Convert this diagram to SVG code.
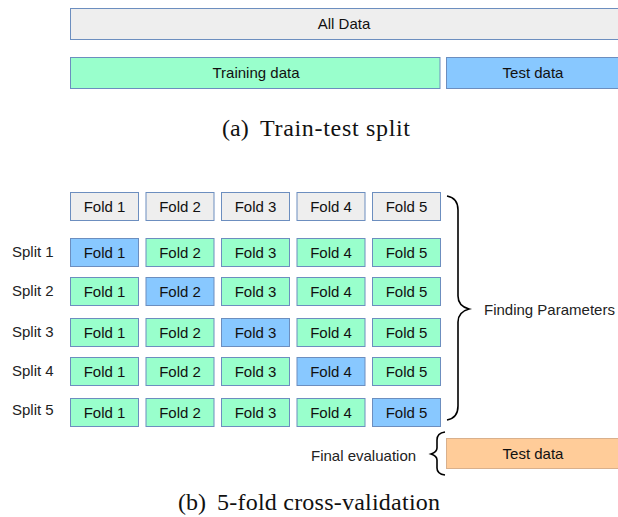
<svg xmlns="http://www.w3.org/2000/svg" width="618" height="517" viewBox="0 0 618 517">
<style>
.box{stroke:#6c8ebf;stroke-width:1}
.g{fill:#eeeeee}
.t{fill:#99ffcc}
.b{fill:#88c8ff}
.o{fill:#ffcc99;stroke:#d9b08c;stroke-width:1}
.lbl{font-family:"Liberation Sans",Arial,sans-serif;font-size:15px;fill:#111;text-anchor:middle}
.side{font-family:"Liberation Sans",Arial,sans-serif;font-size:15px;fill:#222}
.cap{font-family:"Liberation Serif","Times New Roman",serif;font-size:24px;fill:#111}
.brace{fill:none;stroke:#000;stroke-width:1.6}
</style>
<rect width="618" height="517" fill="#fff"/>
<g id="all-data"><rect class="box g" x="70.5" y="8.5" width="560" height="31"/><text class="lbl" x="344" y="29">All Data</text></g>
<g id="training-data"><rect class="box t" x="70.5" y="57.5" width="369.5" height="31"/><text class="lbl" x="256" y="78">Training data</text></g>
<g id="test-data-a"><rect class="box b" x="446.5" y="57.5" width="180" height="31"/><text class="lbl" x="533" y="78">Test data</text></g>
<text class="cap" x="222" y="136">(a)</text>
<text class="cap" x="260" y="136" textLength="150" lengthAdjust="spacing">Train-test split</text>

<g id="header">
<g id="h1"><rect class="box g" x="70.5" y="192.5" width="68" height="28"/><text class="lbl" x="104.5" y="212">Fold 1</text></g>
<g id="h2"><rect class="box g" x="146" y="192.5" width="68" height="28"/><text class="lbl" x="180" y="212">Fold 2</text></g>
<g id="h3"><rect class="box g" x="221.5" y="192.5" width="68" height="28"/><text class="lbl" x="255.5" y="212">Fold 3</text></g>
<g id="h4"><rect class="box g" x="297" y="192.5" width="68" height="28"/><text class="lbl" x="331" y="212">Fold 4</text></g>
<g id="h5"><rect class="box g" x="372.5" y="192.5" width="68" height="28"/><text class="lbl" x="406.5" y="212">Fold 5</text></g>
</g>

<g id="split1"><text class="side" x="12" y="257">Split 1</text>
<rect class="box b" x="70.5" y="238.5" width="68" height="28"/><text class="lbl" x="104.5" y="258">Fold 1</text>
<rect class="box t" x="146" y="238.5" width="68" height="28"/><text class="lbl" x="180" y="258">Fold 2</text>
<rect class="box t" x="221.5" y="238.5" width="68" height="28"/><text class="lbl" x="255.5" y="258">Fold 3</text>
<rect class="box t" x="297" y="238.5" width="68" height="28"/><text class="lbl" x="331" y="258">Fold 4</text>
<rect class="box t" x="372.5" y="238.5" width="68" height="28"/><text class="lbl" x="406.5" y="258">Fold 5</text>
</g>
<g id="split2"><text class="side" x="12" y="296">Split 2</text>
<rect class="box t" x="70.5" y="277.5" width="68" height="28"/><text class="lbl" x="104.5" y="297">Fold 1</text>
<rect class="box b" x="146" y="277.5" width="68" height="28"/><text class="lbl" x="180" y="297">Fold 2</text>
<rect class="box t" x="221.5" y="277.5" width="68" height="28"/><text class="lbl" x="255.5" y="297">Fold 3</text>
<rect class="box t" x="297" y="277.5" width="68" height="28"/><text class="lbl" x="331" y="297">Fold 4</text>
<rect class="box t" x="372.5" y="277.5" width="68" height="28"/><text class="lbl" x="406.5" y="297">Fold 5</text>
</g>
<g id="split3"><text class="side" x="12" y="337">Split 3</text>
<rect class="box t" x="70.5" y="318.5" width="68" height="28"/><text class="lbl" x="104.5" y="338">Fold 1</text>
<rect class="box t" x="146" y="318.5" width="68" height="28"/><text class="lbl" x="180" y="338">Fold 2</text>
<rect class="box b" x="221.5" y="318.5" width="68" height="28"/><text class="lbl" x="255.5" y="338">Fold 3</text>
<rect class="box t" x="297" y="318.5" width="68" height="28"/><text class="lbl" x="331" y="338">Fold 4</text>
<rect class="box t" x="372.5" y="318.5" width="68" height="28"/><text class="lbl" x="406.5" y="338">Fold 5</text>
</g>
<g id="split4"><text class="side" x="12" y="376">Split 4</text>
<rect class="box t" x="70.5" y="357.5" width="68" height="28"/><text class="lbl" x="104.5" y="377">Fold 1</text>
<rect class="box t" x="146" y="357.5" width="68" height="28"/><text class="lbl" x="180" y="377">Fold 2</text>
<rect class="box t" x="221.5" y="357.5" width="68" height="28"/><text class="lbl" x="255.5" y="377">Fold 3</text>
<rect class="box b" x="297" y="357.5" width="68" height="28"/><text class="lbl" x="331" y="377">Fold 4</text>
<rect class="box t" x="372.5" y="357.5" width="68" height="28"/><text class="lbl" x="406.5" y="377">Fold 5</text>
</g>
<g id="split5"><text class="side" x="12" y="415">Split 5</text>
<rect class="box t" x="70.5" y="398.5" width="68" height="28"/><text class="lbl" x="104.5" y="418">Fold 1</text>
<rect class="box t" x="146" y="398.5" width="68" height="28"/><text class="lbl" x="180" y="418">Fold 2</text>
<rect class="box t" x="221.5" y="398.5" width="68" height="28"/><text class="lbl" x="255.5" y="418">Fold 3</text>
<rect class="box t" x="297" y="398.5" width="68" height="28"/><text class="lbl" x="331" y="418">Fold 4</text>
<rect class="box b" x="372.5" y="398.5" width="68" height="28"/><text class="lbl" x="406.5" y="418">Fold 5</text>
</g>

<g id="connectors">
<path class="brace" d="M447 196 Q458 198 458 210 L458 296 Q458 306 469 309 Q458 312 458 322 L458 406 Q458 418 447 420"/>
<path class="brace" d="M445 432 Q437 433 437 440 L437 448 Q437 452 431 454 Q437 456 437 460 L437 468 Q437 474 445 475"/>
</g>
<g id="finding"><text class="side" x="484" y="315">Finding Parameters</text></g>
<g id="final"><text class="side" x="311" y="461">Final evaluation</text></g>
<g id="test-data-b"><rect class="o" x="446.5" y="438.5" width="180" height="30"/><text class="lbl" x="533" y="459">Test data</text></g>
<text class="cap" x="178" y="510">(b)</text>
<text class="cap" x="217" y="510" textLength="223" lengthAdjust="spacing">5-fold cross-validation</text>
</svg>
